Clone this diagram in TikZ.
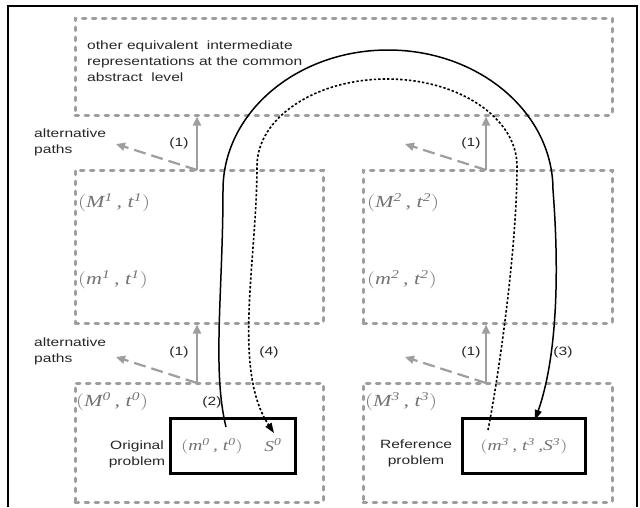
\documentclass[tikz,border=0pt]{standalone}
\usepackage{fontspec}
\setmainfont[FakeStretch=1.3]{Liberation Sans}
\newfontfamily\tms{Liberation Serif}
\usepackage{graphicx}
\usetikzlibrary{arrows.meta}
\definecolor{dgray}{RGB}{158,158,158}
\definecolor{mgray}{RGB}{115,115,115}
\newcommand{\hs}[1]{\scalebox{1.3}[1]{#1}}
\newcommand{\tup}[1]{\hs{$\Bigl(\hbox{\tms\itshape #1}\Bigr)$}}
\newcommand{\sv}[2]{#1\textsuperscript{#2}}
\tikzset{
  gbox/.style={draw=dgray, line width=3pt, dash pattern=on 3.7pt off 6.3pt, line cap=round, inner sep=0pt, rectangle},
  bbox/.style={draw=black, line width=3pt, inner sep=0pt, rectangle},
  lbl/.style={font=\fontsize{12}{16}\selectfont, text=black!85, inner sep=0pt},
  mth/.style={font=\fontsize{17}{21}\selectfont, text=mgray, inner sep=0pt},
  mthin/.style={font=\fontsize{15}{18}\selectfont, text=mgray, inner sep=0pt},
  garrow/.style={draw=dgray, line width=2.2pt, -{Triangle[length=9pt,width=8pt]}},
  gdash/.style={garrow, dash pattern=on 12pt off 6pt},
  pathsolid/.style={draw=black, line width=1.5pt, -{Triangle[length=10pt,width=7pt]}},
  pathdot/.style={draw=black, line width=1.6pt, dash pattern=on 2.4pt off 2pt, -{Triangle[length=10pt,width=7pt]}}
}
\begin{document}
\begin{tikzpicture}[x=1pt,y=-1pt]
\useasboundingbox (0,0) rectangle (640,507);
% outer frame
\draw[line width=2.5pt] (8,507) -- (8,6) -- (637,6) -- (637,507);
% dashed boxes
\node[gbox, minimum width=537pt, minimum height=97pt] (top) at (343.5,66.5) {};
\node[gbox, minimum width=248pt, minimum height=153pt] (midL) at (199,246.5) {};
\node[gbox, minimum width=249pt, minimum height=153pt] (midR) at (487.5,246.5) {};
\node[gbox, minimum width=248pt, minimum height=119pt] (botL) at (199,442.5) {};
\node[gbox, minimum width=249pt, minimum height=119pt] (botR) at (487.5,442.5) {};
% solid boxes
\node[bbox, minimum width=125pt, minimum height=55pt] (blkL) at (232.5,445.5) {};
\node[bbox, minimum width=123pt, minimum height=55pt] (blkR) at (523.5,445.5) {};
% top text
\node[lbl, anchor=west, align=left] (toptxt) at (87,61) {other equivalent\ \ intermediate\\ representations at the common\\ abstract\ \ level};
% alternative paths labels
\node[lbl, anchor=west, align=left] (alt1) at (34,142) {alternative\\ paths};
\node[lbl, anchor=west, align=left] (alt2) at (34,351) {alternative\\ paths};
% gray arrows
\coordinate (c1) at (197,170);
\coordinate (c2) at (486,170);
\coordinate (c3) at (197,383);
\coordinate (c4) at (486,383);
\coordinate (a1) at (116,144);
\coordinate (a2) at (405,144);
\coordinate (a3) at (116,357);
\coordinate (a4) at (405,357);
\draw[garrow] (c1) -- (c1 |- top.south);
\draw[garrow] (c2) -- (c2 |- top.south);
\draw[garrow] (c3) -- (c3 |- midL.south);
\draw[garrow] (c4) -- (c4 |- midR.south);
\draw[gdash] (c1) -- (a1);
\draw[gdash] (c2) -- (a2);
\draw[gdash] (c3) -- (a3);
\draw[gdash] (c4) -- (a4);
% step labels
\node[lbl] (one1) at (179,143) {(1)};
\node[lbl] (one2) at (471,143) {(1)};
\node[lbl] (one3) at (179,352) {(1)};
\node[lbl] (one4) at (471,352) {(1)};
\node[lbl] (four) at (269,352) {(4)};
\node[lbl] (three) at (563,352) {(3)};
\node[lbl] (two) at (212,402) {(2)};
% math labels
\node[mth, anchor=west] (M1) at (78,203) {\tup{\sv{M}{1}\,, \sv{t}{1}}};
\node[mth, anchor=west] (m1) at (78,280) {\tup{\sv{m}{1}\,, \sv{t}{1}}};
\node[mth, anchor=west] (M2) at (367,203) {\tup{\sv{M}{2}\,, \sv{t}{2}}};
\node[mth, anchor=west] (m2) at (367,280) {\tup{\sv{m}{2}\,, \sv{t}{2}}};
\node[mth, anchor=west] (M0) at (76,402) {\tup{\sv{M}{0}\,, \sv{t}{0}}};
\node[mth, anchor=west] (M3) at (365,402) {\tup{\sv{M}{3}\,, \sv{t}{3}}};
\node[mthin] (m0) at (212,446) {\tup{\sv{m}{0}\,, \sv{t}{0}}};
\node[mthin] (S0) at (273,445) {\hs{\tms\itshape\sv{S}{0}}};
\node[mthin] (m3) at (524,446) {\tup{\sv{m}{3}\,, \sv{t}{3}\,,\sv{S}{3}}};
% problem labels
\node[lbl, align=center] (orig) at (137,454) {Original\\ problem};
\node[lbl, align=center] (refp) at (416,453) {Reference\\ problem};
% curves
\coordinate (s2) at (226,427);
\coordinate (e3) at (535,420);
\coordinate (s4) at (488,430);
\coordinate (e4) at (274,433);
\draw[pathsolid] (s2) .. controls (212,370) and (223,290) .. (223,190)
  .. controls (223,112.7) and (296.9,50) .. (388,50)
  .. controls (479.1,50) and (553,112.7) .. (553,190)
  .. controls (560,280) and (556,360) .. (e3);
\draw[pathdot] (s4) .. controls (498,380) and (517,250) .. (517,166)
  .. controls (517,118) and (458.8,79) .. (387,79)
  .. controls (315.2,79) and (257,118) .. (257,166)
  .. controls (257,260) and (232,370) .. (e4);
\end{tikzpicture}
\end{document}
